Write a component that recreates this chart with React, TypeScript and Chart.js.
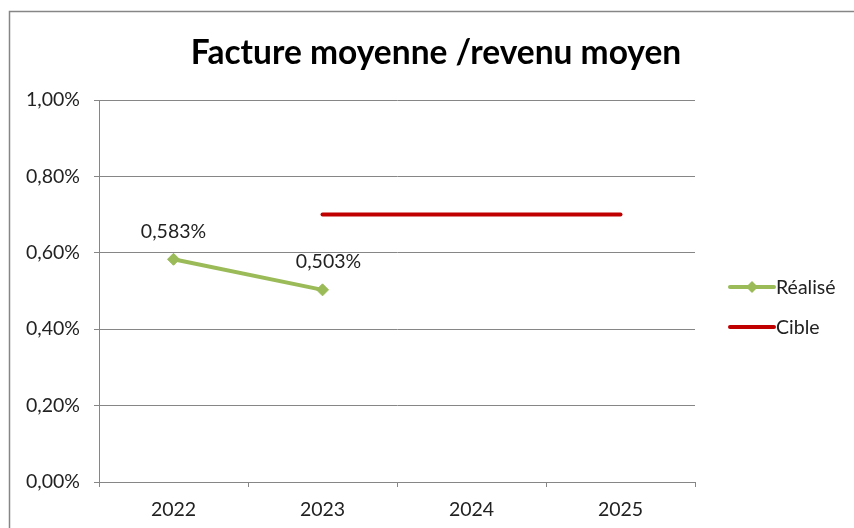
import React, { useEffect, useRef } from "react";
import { Chart, registerables } from "chart.js";

Chart.register(...registerables);

const TITLE = "Facture moyenne /revenu moyen";
const categories = ["2022", "2023", "2024", "2025"];
const realiseValues: (number | null)[] = [0.583, 0.503, null, null];
const cibleValues: (number | null)[] = [null, 0.7, 0.7, 0.7];
const realiseLabels = ["0,583%", "0,503%"];
const seriesNames = ["Réalisé", "Cible"];
const GREEN = "#9BBB59";
const RED = "#C00000";
const GRID = "#868686";
const FONT = "Lato, 'Open Sans', sans-serif";

const fmt = (v: number) => v.toFixed(2).replace(".", ",") + "%";

export default function App() {
  const ref = useRef<HTMLCanvasElement | null>(null);
  useEffect(() => {
    document.body.style.margin = "0";
    const canvas = ref.current!;
    const deco = {
      id: "deco",
      beforeDraw(chart: any) {
        const c = chart.ctx;
        c.save();
        c.fillStyle = "#fff";
        c.fillRect(0, 0, chart.width, chart.height);
        c.strokeStyle = GRID;
        c.lineWidth = 1.5;
        c.strokeRect(9.5, 11.5, 900, 600);
        c.restore();
      },
      afterDraw(chart: any) {
        const c = chart.ctx;
        c.save();
        // title
        c.fillStyle = "#000";
        c.font = `bold 33.5px ${FONT}`;
        c.textAlign = "center";
        c.textBaseline = "middle";
        c.fillText(TITLE, 436, 53);
        // data labels
        c.font = `19.5px ${FONT}`;
        c.fillStyle = "#222";
        const meta = chart.getDatasetMeta(0);
        realiseLabels.forEach((t, i) => {
          const p = meta.data[i];
          if (p) c.fillText(t, p.x + (i === 1 ? 6 : 0), p.y - 28);
        });
        // legend
        const ly = [287, 327];
        const cols = [GREEN, RED];
        c.textAlign = "left";
        ly.forEach((y, i) => {
          c.strokeStyle = cols[i];
          c.lineWidth = 4;
          c.lineCap = "round";
          c.beginPath();
          c.moveTo(730, y);
          c.lineTo(774, y);
          c.stroke();
          if (i === 0) {
            c.fillStyle = GREEN;
            c.beginPath();
            c.moveTo(752, y - 6);
            c.lineTo(758, y);
            c.lineTo(752, y + 6);
            c.lineTo(746, y);
            c.closePath();
            c.fill();
          }
          c.fillStyle = "#222";
          c.fillText(seriesNames[i], 776, y + 1);
        });
        c.restore();
      },
    };
    const chart = new Chart(canvas, {
      type: "line",
      data: {
        labels: categories,
        datasets: [
          {
            label: seriesNames[0],
            data: realiseValues,
            borderColor: GREEN,
            backgroundColor: GREEN,
            borderWidth: 4,
            borderCapStyle: "round",
            pointStyle: "rectRot",
            pointRadius: 6,
            pointBackgroundColor: GREEN,
            pointBorderColor: GREEN,
            pointBorderWidth: 1,
            spanGaps: false,
          },
          {
            label: seriesNames[1],
            data: cibleValues,
            borderColor: RED,
            backgroundColor: RED,
            borderWidth: 4,
            borderCapStyle: "round",
            pointRadius: 0,
            spanGaps: false,
          },
        ],
      },
      options: {
        animation: false,
        responsive: false,
        layout: { padding: { top: 100, right: 159, bottom: 0, left: 0 } },
        plugins: { legend: { display: false }, title: { display: false }, tooltip: { enabled: false } },
        scales: {
          x: {
            offset: true,
            grid: { offset: true, drawOnChartArea: false, drawTicks: true, tickLength: 5, color: GRID },
            border: { display: true, color: GRID, width: 1 },
            ticks: { font: { family: FONT, size: 19.5 }, color: "#222", padding: 11 },
            afterFit: (s: any) => { s.height = 46; },
          },
          y: {
            min: 0,
            max: 1,
            grid: { color: GRID, tickLength: 5, drawTicks: true },
            border: { display: true, color: GRID, width: 1 },
            ticks: {
              stepSize: 0.2,
              font: { family: FONT, size: 19.5 },
              color: "#222",
              padding: 14,
              callback: (v: any) => fmt(Number(v)),
            },
            afterFit: (s: any) => { s.width = 99; },
          },
        },
      },
      plugins: [deco],
    } as any);
    return () => chart.destroy();
  }, []);
  return (
    <div style={{ width: 854, height: 528, position: "relative" }}>
      <canvas ref={ref} width={854} height={528} style={{ display: "block", width: 854, height: 528 }} />
    </div>
  );
}
